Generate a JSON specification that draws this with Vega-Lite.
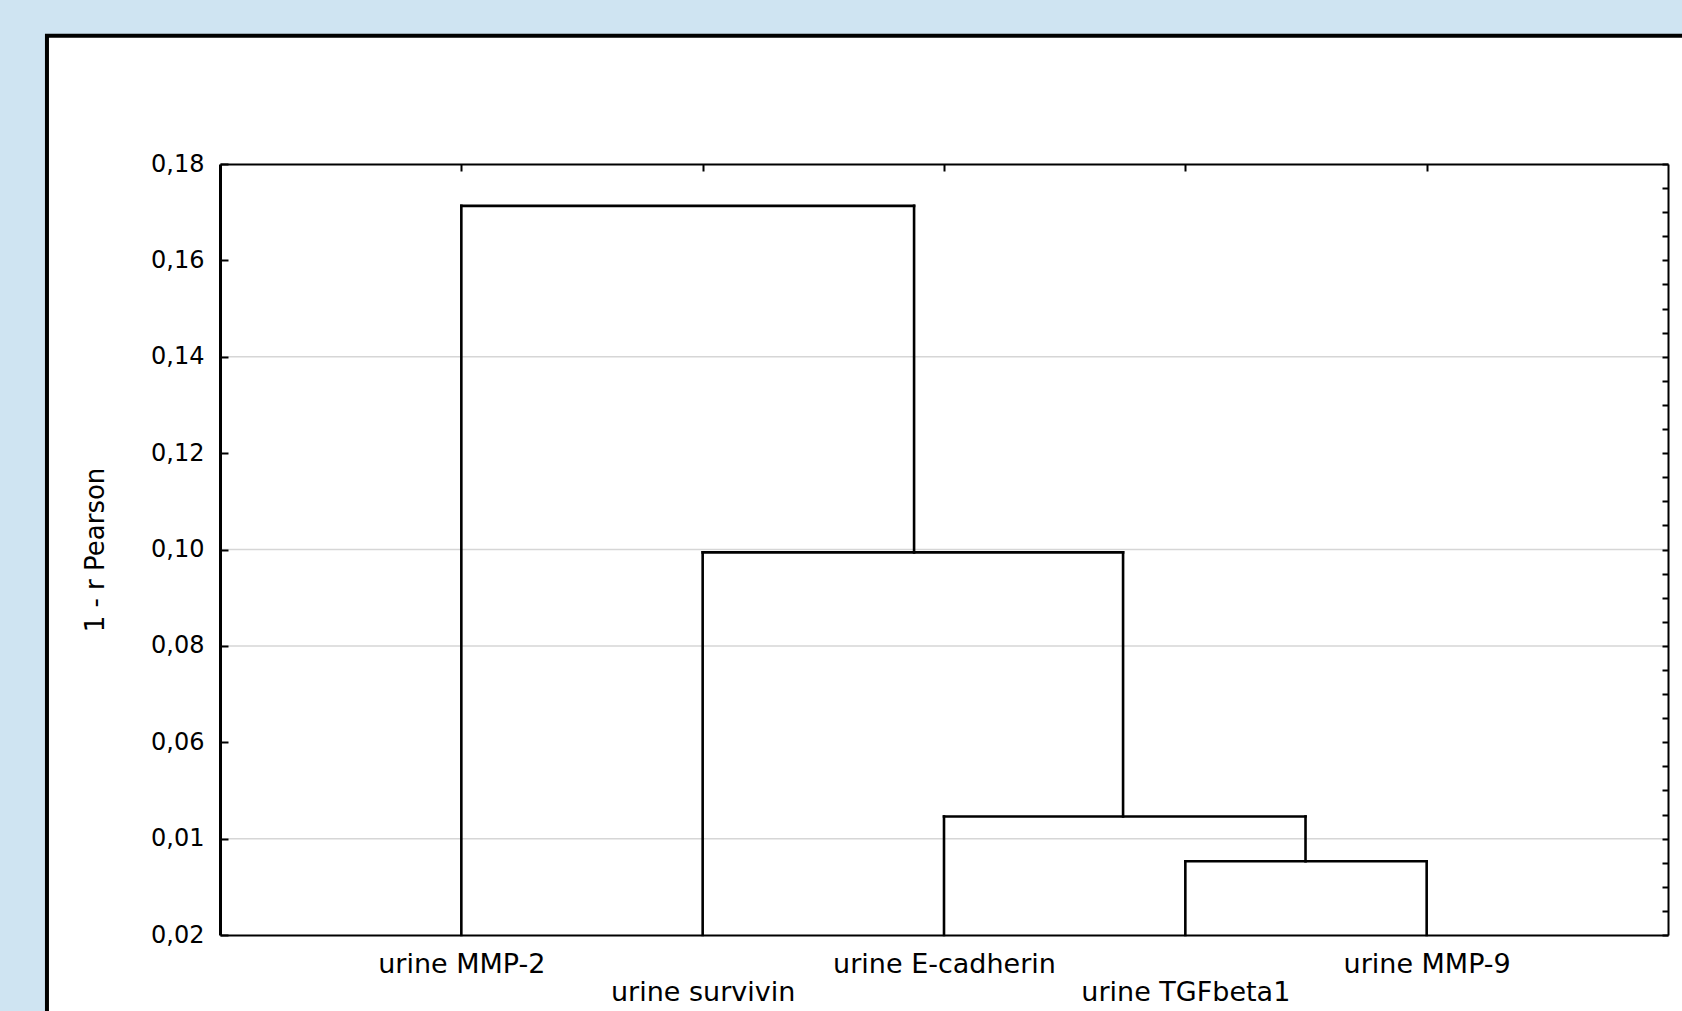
{
  "$schema": "https://vega.github.io/schema/vega-lite/v6.json",
  "width": 1448,
  "height": 771,
  "autosize": "none",
  "padding": {"left": 220, "top": 164, "right": 14, "bottom": 76},
  "background": "#cfe4f2",
  "config": {
    "view": {"stroke": null},
    "font": "DejaVu Sans",
    "axis": {"domainColor": "black", "tickColor": "black", "labelColor": "black", "titleColor": "black", "grid": false}
  },
  "resolve": {"axis": {"x": "independent", "y": "independent"}},
  "layer": [
    {
      "data": {"values": [{"panel": "frame"}]},
      "mark": {"type": "rect", "fill": "white", "stroke": "black", "strokeWidth": 4},
      "encoding": {
        "x": {"datum": -0.717, "type": "quantitative", "scale": {"domain": [0, 6], "nice": false, "zero": false},
              "axis": {"orient": "top", "zindex": 1, "values": [1, 2, 3, 4, 5], "labels": false, "title": null, "tickSize": -7, "tickWidth": 2, "domainWidth": 2}},
        "x2": {"datum": 6.3},
        "y": {"datum": 0.0, "type": "quantitative", "scale": {"domain": [0.02, 0.18], "nice": false, "zero": false},
              "axis": {"orient": "right", "zindex": 1, "values": [0.02,0.025,0.03,0.035,0.04,0.045,0.05,0.055,0.06,0.065,0.07,0.075,0.08,0.085,0.09,0.095,0.1,0.105,0.11,0.115,0.12,0.125,0.13,0.135,0.14,0.145,0.15,0.155,0.16,0.165,0.17,0.175,0.18], "labels": false, "title": null, "tickSize": -6, "tickWidth": 2, "domainWidth": 2}},
        "y2": {"datum": 0.2066}
      }
    },
    {
      "data": {"values": [{"grid": 0.04}, {"grid": 0.08}, {"grid": 0.10}, {"grid": 0.14}]},
      "mark": {"type": "rule", "color": "#d6d6d6", "strokeWidth": 1.5},
      "encoding": {
        "y": {"field": "grid", "type": "quantitative", "scale": {"domain": [0.02, 0.18], "nice": false, "zero": false}, "axis": null}
      }
    },
    {
      "data": {"values": [
        {"x": 1, "x2": 1, "y": 0.02, "y2": 0.1713},
        {"x": 1, "x2": 2.876, "y": 0.1713, "y2": 0.1713},
        {"x": 2.876, "x2": 2.876, "y": 0.0994, "y2": 0.1713},
        {"x": 2, "x2": 3.742, "y": 0.0994, "y2": 0.0994},
        {"x": 2, "x2": 2, "y": 0.02, "y2": 0.0994},
        {"x": 3.742, "x2": 3.742, "y": 0.0446, "y2": 0.0994},
        {"x": 3, "x2": 4.498, "y": 0.0446, "y2": 0.0446},
        {"x": 3, "x2": 3, "y": 0.02, "y2": 0.0446},
        {"x": 4.498, "x2": 4.498, "y": 0.0353, "y2": 0.0446},
        {"x": 4, "x2": 5, "y": 0.0353, "y2": 0.0353},
        {"x": 4, "x2": 4, "y": 0.02, "y2": 0.0353},
        {"x": 5, "x2": 5, "y": 0.02, "y2": 0.0353}
      ]},
      "mark": {"type": "rule", "color": "black", "strokeWidth": 2.6, "strokeCap": "square"},
      "encoding": {
        "x": {"field": "x", "type": "quantitative", "scale": {"domain": [0, 6], "nice": false, "zero": false},
              "axis": {"orient": "bottom", "zindex": 1, "values": [1, 2, 3, 4, 5], "ticks": false, "title": null, "domainWidth": 2,
                       "labelExpr": "['', 'urine MMP-2', 'urine survivin', 'urine E-cadherin', 'urine TGFbeta1', 'urine MMP-9'][datum.value]",
                       "labelFontSize": 27, "labelLimit": 0, "labelBaseline": "top", "labelOverlap": false, "labelBound": false, "labelFlush": false,
                       "labelPadding": {"condition": {"test": "datum.value == 2 || datum.value == 4", "value": 44}, "value": 16}}},
        "x2": {"field": "x2"},
        "y": {"field": "y", "type": "quantitative", "scale": {"domain": [0.02, 0.18], "nice": false, "zero": false},
              "axis": {"orient": "left", "zindex": 1, "values": [0.02, 0.04, 0.06, 0.08, 0.10, 0.12, 0.14, 0.16, 0.18],
                       "labelExpr": "abs(datum.value - 0.04) < 0.000001 ? '0,01' : replace(format(datum.value, '.2f'), '.', ',')",
                       "labelFontSize": 24, "labelPadding": 24, "tickSize": -8, "tickWidth": 2, "domainWidth": 3,
                       "labelOverlap": false, "labelBound": false, "labelFlush": false,
                       "title": "1 - r Pearson", "titleFontSize": 26, "titleFontWeight": "normal", "titlePadding": 42}},
        "y2": {"field": "y2"}
      }
    }
  ]
}
